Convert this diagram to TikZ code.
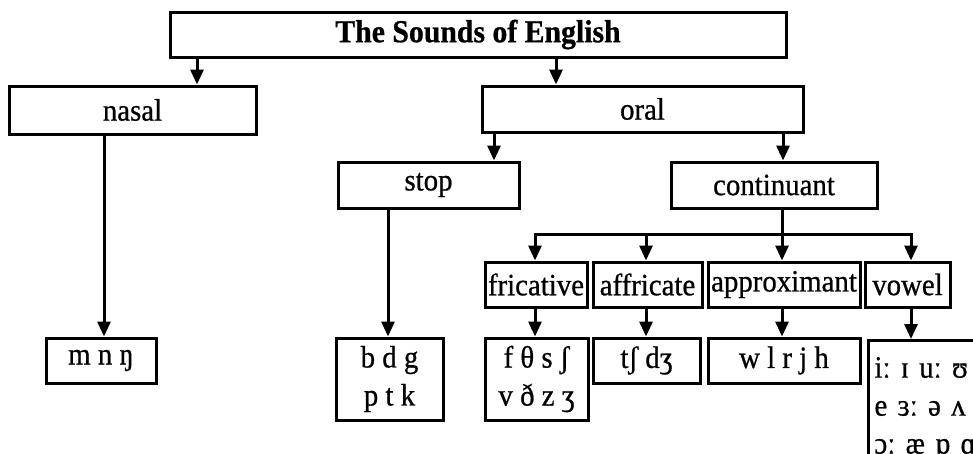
\documentclass[tikz,border=0pt]{standalone}
\usepackage{fontspec}
\setmainfont{Liberation Serif}[FakeStretch=0.93,FakeBold=0.7]
\usetikzlibrary{arrows.meta}
\begin{document}
\begin{tikzpicture}[x=1pt,y=-1pt,
  box/.style={draw,line width=3pt,inner sep=0pt,minimum height=45pt,font=\fontsize{31}{38}\selectfont},
  arr/.style={line width=3pt,-{Triangle[width=13pt,length=15pt]}},
  ln/.style={line width=3pt}]
\fill[white] (0,0) rectangle (973,453);
\clip (0,0) rectangle (973,453);
% nodes
\node[box,minimum width=616pt,font=\bfseries\fontsize{32}{38}\selectfont] (title) at (478,34.5) {The Sounds of English};
\node[box,minimum width=247pt,minimum height=48pt] (nasal) at (132.5,110) {nasal};
\node[box,minimum width=321pt,minimum height=46pt] (oral) at (642.5,109) {oral};
\node[box,minimum width=181pt,minimum height=46pt] (stop) at (428.5,185) {stop};
\node[box,minimum width=206pt,minimum height=46pt] (cont) at (774,185) {continuant};
\node[box,minimum width=102pt] (fric) at (536,284.5) {fricative};
\node[box,minimum width=109pt] (affr) at (647.5,284.5) {affricate};
\node[box,minimum width=152pt] (appr) at (784,284.5) {approximant};
\node[box,minimum width=85pt] (vow) at (907.5,284.5) {vowel};
\node[box,minimum width=110pt] (nasph) at (101,360.5) {m n ŋ};
\node[box,minimum width=107pt,minimum height=82pt,align=center] (stopph) at (389.5,379) {b d g\\p t k};
\node[box,minimum width=103pt,minimum height=82pt,align=center] (fricph) at (536.5,379) {f θ s ʃ\\v ð z ʒ};
\node[box,minimum width=107pt] (affrph) at (646.5,360.5) {tʃ dʒ};
\node[box,minimum width=152pt] (apprph) at (784,360.5) {w l r j h};
\node[box,anchor=north west,text width=130pt,minimum height=130pt,align=left,inner xsep=6pt,inner ysep=7pt] (vowph) at (867,339) {iː ɪ uː ʊ\\e ɜː ə ʌ\\ɔː æ ɒ ɑː};
% arrow x positions
\coordinate (xa) at (197,0);
\coordinate (xb) at (556,0);
\coordinate (xc) at (494,0);
\coordinate (xd) at (783,0);
\coordinate (xe) at (104,0);
\coordinate (xf) at (388,0);
\coordinate (xg) at (782,0);
\coordinate (bar) at (0,234);
\coordinate (x1) at (535,0);
\coordinate (x2) at (646,0);
\coordinate (x3) at (782,0);
\coordinate (x4) at (911,0);
% connectors
\draw[arr] (xa |- title.south) -- (xa |- nasal.north);
\draw[arr] (xb |- title.south) -- (xb |- oral.north);
\draw[arr] (xc |- oral.south) -- (xc |- stop.north);
\draw[arr] (xd |- oral.south) -- (xd |- cont.north);
\draw[arr] (xe |- nasal.south) -- (xe |- nasph.north);
\draw[arr] (xf |- stop.south) -- (xf |- stopph.north);
\draw[ln] (xg |- cont.south) -- (xg |- bar);
\draw[ln,line cap=rect] (x1 |- bar) -- (x4 |- bar);
\draw[arr] (x1 |- bar) -- (x1 |- fric.north);
\draw[arr] (x2 |- bar) -- (x2 |- affr.north);
\draw[arr] (x3 |- bar) -- (x3 |- appr.north);
\draw[arr] (x4 |- bar) -- (x4 |- vow.north);
\draw[arr] (x1 |- fric.south) -- (x1 |- fricph.north);
\draw[arr] (x2 |- affr.south) -- (x2 |- affrph.north);
\draw[arr] (x3 |- appr.south) -- (x3 |- apprph.north);
\draw[arr] (x4 |- vow.south) -- (x4 |- vowph.north);
\end{tikzpicture}
\end{document}
